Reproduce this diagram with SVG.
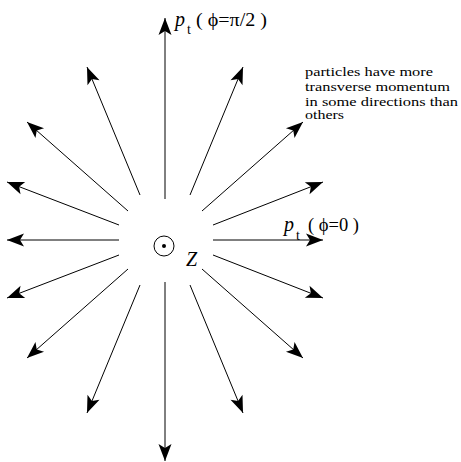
<svg xmlns="http://www.w3.org/2000/svg" width="461" height="462" viewBox="0 0 461 462">
<style>
.ar{stroke:#000;stroke-width:1;fill:none;marker-end:url(#ah)}
.tm{font-family:"Liberation Serif","Times New Roman",serif;fill:#000}
.it{font-style:italic}
</style>
<defs>
<marker id="ah" markerUnits="userSpaceOnUse" viewBox="-18 -7 19 14" refX="0" refY="0" markerWidth="19" markerHeight="14" orient="auto">
<path d="M0,0 L-17,-6.5 L-13,0 L-17,6.5 Z" fill="#000"/>
</marker>
</defs>
<rect width="461" height="462" fill="#fff"/>
<g id="connectors">
<line class="ar" x1="165" y1="199" x2="165" y2="18"/>
<line class="ar" x1="165" y1="282" x2="165" y2="461"/>
<line class="ar" x1="213" y1="240" x2="323" y2="240"/>
<line class="ar" x1="119" y1="240" x2="7" y2="240"/>
<line class="ar" x1="213" y1="225" x2="323" y2="182"/>
<line class="ar" x1="119" y1="225" x2="7" y2="182"/>
<line class="ar" x1="213" y1="255" x2="323" y2="298"/>
<line class="ar" x1="119" y1="255" x2="7" y2="298"/>
<line class="ar" x1="202" y1="211" x2="303" y2="122"/>
<line class="ar" x1="128" y1="211" x2="27" y2="122"/>
<line class="ar" x1="202" y1="269" x2="303" y2="358"/>
<line class="ar" x1="128" y1="269" x2="27" y2="358"/>
<line class="ar" x1="190" y1="195" x2="243" y2="67"/>
<line class="ar" x1="140" y1="195" x2="87" y2="67"/>
<line class="ar" x1="190" y1="285" x2="243" y2="413"/>
<line class="ar" x1="140" y1="285" x2="87" y2="413"/>
</g>
<g id="origin">
<circle cx="164" cy="246" r="10" fill="none" stroke="#000" stroke-width="1"/>
<circle cx="164" cy="246" r="2" fill="#000"/>
</g>
<g id="label-z">
<text class="tm it" x="186" y="266" font-size="20">Z</text>
</g>
<g id="label-pt-pi2">
<text class="tm it" x="175" y="26" font-size="20">p</text>
<text class="tm" x="187" y="34" font-size="14">t</text>
<text class="tm" x="196" y="26" font-size="18" textLength="71" lengthAdjust="spacingAndGlyphs">( ϕ=π/2 )</text>
</g>
<g id="label-pt-0">
<text class="tm it" x="284" y="231" font-size="20">p</text>
<text class="tm" x="296" y="240" font-size="14">t</text>
<text class="tm" x="308" y="231" font-size="18" textLength="51" lengthAdjust="spacingAndGlyphs">( ϕ=0 )</text>
</g>
<g id="note">
<text class="tm" x="305" y="75.5" font-size="13.5" textLength="128" lengthAdjust="spacingAndGlyphs">particles have more</text>
<text class="tm" x="305" y="90.5" font-size="13.5" textLength="145" lengthAdjust="spacingAndGlyphs">transverse momentum</text>
<text class="tm" x="305" y="105.5" font-size="13.5" textLength="153" lengthAdjust="spacingAndGlyphs">in some directions than</text>
<text class="tm" x="305" y="119" font-size="13.5" textLength="39" lengthAdjust="spacingAndGlyphs">others</text>
</g>
</svg>
